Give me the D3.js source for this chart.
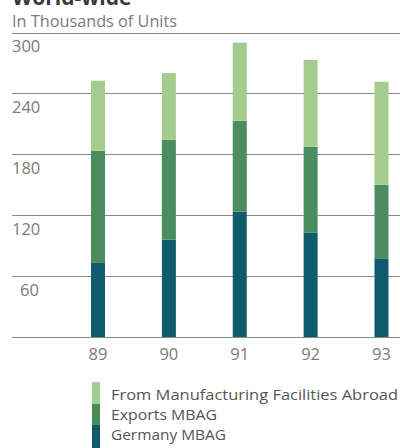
<!DOCTYPE html>
<html><head><meta charset="utf-8">
<script src="https://cdn.jsdelivr.net/npm/d3@7"></script>
<style>
html,body{margin:0;padding:0;background:#fff;}
svg{display:block;}
text{font-family:"Open Sans",sans-serif;}
</style></head>
<body>
<script>
const years = ["89","90","91","92","93"];
const germany = [73, 96, 123.5, 103, 77.5];
const exportsMBAG = [110.5, 98.5, 89.5, 84.5, 72.5];
const abroad = [69, 65.5, 77, 85.5, 101.5];
const yTicks = [0, 60, 120, 180, 240, 300];
const seriesNames = ["Germany MBAG", "Exports MBAG", "From Manufacturing Facilities Abroad"];
const legendWidths = [115, 106, 287];
const colors = ["#0f5a6c", "#4c8d60", "#a4cc8d"];

const W = 400, H = 448;
const svg = d3.select("body").append("svg").attr("width", W).attr("height", H);

const table = years.map((y, i) => ({year: y, germany: germany[i], exports: exportsMBAG[i], abroad: abroad[i]}));
const keys = ["germany", "exports", "abroad"];
const stack = d3.stack().keys(keys)(table);

const x = d3.scalePoint().domain(years).range([98, 381.5]);
const y = d3.scaleLinear().domain([0, 300]).range([337, 32.5]);
const barW = 14;

// title (cut off at the top, as in the reference)
svg.append("text").attr("x", 12).attr("y", 5).attr("font-size", 21).attr("font-weight", "bold")
  .attr("fill", "#3a3a3a").text("World-wide");
svg.append("text").attr("x", 12).attr("y", 27).attr("font-size", 16).attr("fill", "#7a7a7a")
  .attr("textLength", 165).attr("lengthAdjust", "spacingAndGlyphs")
  .text("In Thousands of Units");

// grid
const grid = svg.append("g");
grid.selectAll("line").data(yTicks).join("line")
  .attr("x1", 12).attr("x2", 400)
  .attr("y1", d => Math.round(y(d)) + 0.5).attr("y2", d => Math.round(y(d)) + 0.5)
  .attr("stroke", "#8a8a8a").attr("stroke-width", 1);
grid.selectAll("text").data(yTicks.filter(d => d > 0)).join("text")
  .attr("x", d => d < 100 ? 20 : 12).attr("y", d => y(d) + 19.5)
  .attr("font-size", 16.5).attr("fill", "#7a7a7a").text(d => d);

// bars
svg.append("g").selectAll("g").data(stack).join("g")
  .attr("fill", (d, i) => colors[i])
  .selectAll("rect").data(d => d).join("rect")
  .attr("x", d => x(d.data.year) - barW / 2)
  .attr("width", barW)
  .attr("y", d => y(d[1]))
  .attr("height", d => y(d[0]) - y(d[1]));

// x labels
svg.append("g").selectAll("text").data(years).join("text")
  .attr("x", d => x(d)).attr("y", 360).attr("text-anchor", "middle")
  .attr("font-size", 16.5).attr("fill", "#7a7a7a").text(d => d);

// legend
const lg = svg.append("g");
const legendOrder = [2, 1, 0];
const legTops = [382, 404, 425];
legendOrder.forEach((si, k) => {
  lg.append("rect").attr("x", 92).attr("y", legTops[k]).attr("width", 8)
    .attr("height", k === 2 ? 23 : legTops[k + 1] - legTops[k]).attr("fill", colors[si]);
  lg.append("text").attr("x", 111).attr("y", 400 + k * 20)
    .attr("font-size", 14.5).attr("fill", "#555")
    .attr("textLength", legendWidths[si]).attr("lengthAdjust", "spacingAndGlyphs")
    .text(seriesNames[si]);
});
</script>
</body></html>
